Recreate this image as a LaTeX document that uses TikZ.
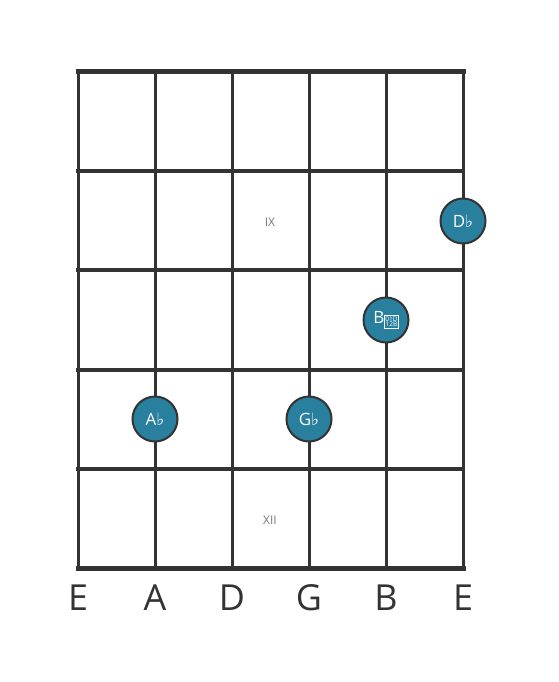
\documentclass[tikz,border=0pt]{standalone}
\usepackage{fontspec}
\setmainfont{Open Sans}
\newfontfamily\flatfont{DejaVu Sans}
\definecolor{linegray}{HTML}{333333}
\definecolor{noteteal}{HTML}{287F9E}
\definecolor{numgray}{HTML}{777777}
\newcommand\fl{{\flatfont\symbol{"266D}}}
\newcommand\dflatbox{{\setlength{\fboxsep}{0.5pt}\setlength{\fboxrule}{0.5pt}%
  \fbox{\fontsize{6.5}{6}\selectfont\begin{tabular}{@{}c@{}}01D\\[-1.5pt]12B\end{tabular}}}}
\tikzset{
  fret/.style={draw=linegray, line width=4bp, line cap=rect},
  nut/.style={draw=linegray, line width=5bp, line cap=rect},
  string/.style={draw=linegray, line width=3bp},
  note/.style={circle, draw=linegray, line width=2bp, fill=noteteal, minimum size=45bp,
    inner sep=0pt, text=white, font=\fontsize{17}{17}\selectfont},
  fretnum/.style={text=numgray, font=\fontsize{12}{12}\selectfont},
  strname/.style={text=linegray, font=\fontsize{36}{36}\selectfont}
}

\begin{document}
\begin{tikzpicture}[x=1bp,y=-1bp]
  \useasboundingbox (0,0) rectangle (559,682);

  % Strings with their names
  \foreach \i/\lab in {0/E,1/A,2/D,3/G,4/B,5/E}{
    \coordinate (s\i t) at (78+77*\i,72);
    \coordinate (s\i b) at (78+77*\i,568);
    \draw[string] (s\i t) -- (s\i b);
    \node[strname] (n\i) at (78+77*\i,598) {\lab};
  }
  % Frets
  \foreach \j in {0,...,5}{
    \coordinate (f\j l) at (78,72+99.2*\j);
    \coordinate (f\j r) at (463,72+99.2*\j);
  }
  \foreach \j in {1,...,4}
    \draw[fret] (f\j l) -- (f\j r);
  \draw[nut] (f0l) -- (f0r);
  \draw[nut] (f5l) -- (f5r);

  % Fret numbers
  \node[fretnum] (ix) at (270,222) {IX};
  \node[fretnum] (xii) at (270,520) {XII};

  % Notes
  \node[note] (db) at (463,221) {D\fl};
  \node[note] (bbb) at (386,320) {B\raisebox{-0.5pt}{\dflatbox}};
  \node[note] (ab) at (155,419) {A\fl};
  \node[note] (gb) at (309,419) {G\fl};
\end{tikzpicture}
\end{document}
